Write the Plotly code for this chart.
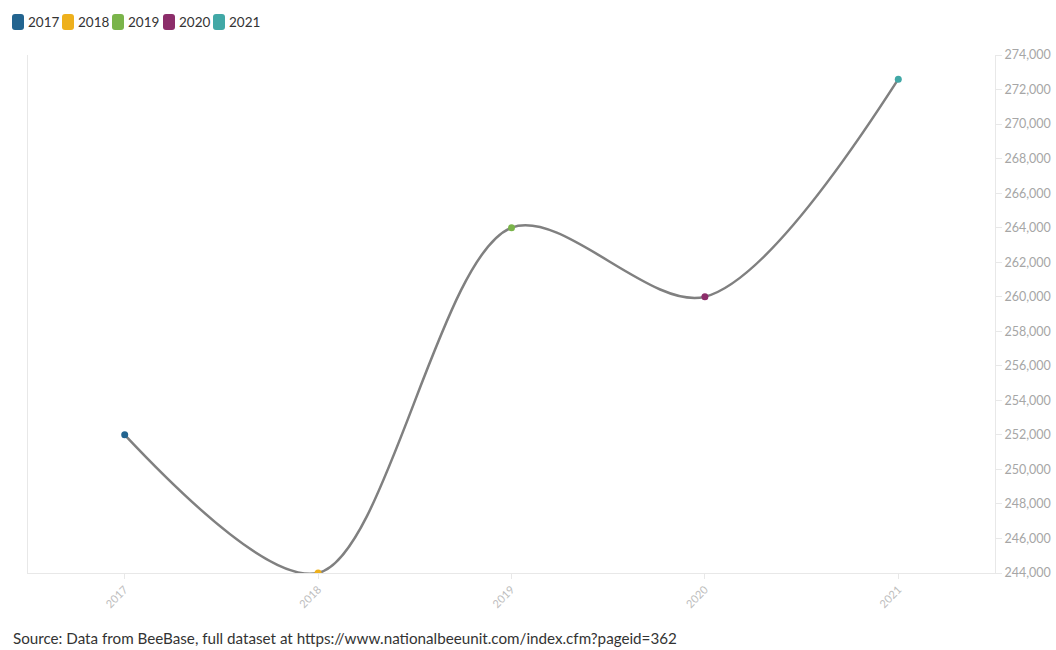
import plotly.graph_objects as go

years = [2017, 2018, 2019, 2020, 2021]
colonies = [252000, 244000, 264000, 260000, 272600]
colours = ['#23648f', '#eeb01c', '#7ab44a', '#8c2d6a', '#41a8a6']
y_ticks = list(range(244000, 276000, 2000))
source = 'Source: Data from BeeBase, full dataset at https://www.nationalbeeunit.com/index.cfm?pageid=362'

font = "Source Sans Pro, Lato, Noto Sans, sans-serif"

# plot area in page pixels
L, R, T, B = 28, 995, 55, 573
def px_x(p):
    return (p - L) / (R - L)
def px_y(p):
    return (B - p) / (B - T)

traces = [go.Scatter(x=years, y=colonies, mode='lines', line=dict(color='#808080', width=2.5, shape='spline', smoothing=0.9),
                     showlegend=False, hoverinfo='skip')]

for yr, val, col in zip(years, colonies, colours):
    traces.append(go.Scatter(x=[yr], y=[val], mode='markers', marker=dict(color=col, size=7),
                             showlegend=False, name=str(yr)))

# hand made legend: rounded swatch + label
legend_left = [12, 62, 112, 163, 213]
shapes = []
annotations = []
rr = 'M -6,5 Q -6,8 -3,8 L 3,8 Q 6,8 6,5 L 6,-5 Q 6,-8 3,-8 L -3,-8 Q -6,-8 -6,-5 Z'
for yr, col, lx in zip(years, colours, legend_left):
    shapes.append(dict(type='path', xref='paper', yref='paper', xsizemode='pixel', ysizemode='pixel',
                       xanchor=px_x(lx + 6), yanchor=px_y(22), path=rr,
                       fillcolor=col, line=dict(width=0)))
    annotations.append(dict(text=str(yr), xref='paper', yref='paper', x=px_x(lx + 14), y=px_y(22),
                            xanchor='left', yanchor='middle', showarrow=False,
                            font=dict(size=13.5, color='#333333')))

annotations.append(dict(text=source, xref='paper', yref='paper', x=px_x(11), y=px_y(638),
                        xanchor='left', yanchor='middle', showarrow=False,
                        font=dict(size=15.2, color='#333333')))

layout = go.Layout(
    width=1056, height=650,
    margin=dict(l=L, r=1056 - R, t=T, b=650 - B, autoexpand=False),
    paper_bgcolor='white', plot_bgcolor='white',
    font=dict(family=font, color='#333333'),
    showlegend=False,
    xaxis=dict(range=[2016.5, 2021.5], tickvals=years, ticktext=[str(y) for y in years],
               tickangle=-45, tickfont=dict(size=11, color='#bdbdbd'),
               showgrid=False, zeroline=False, showline=True, linecolor='#e8e8e8', linewidth=1,
               ticks='outside', ticklen=5, tickcolor='#e8e8e8'),
    yaxis=dict(side='right', range=[244000, 274000], tickvals=y_ticks, tickformat=',d',
               tickfont=dict(size=12.5, color='#a6a6a6'),
               showgrid=False, zeroline=False, showline=True, mirror=True,
               linecolor='#e8e8e8', linewidth=1,
               ticks='outside', ticklen=6, tickcolor='#e8e8e8'),
    shapes=shapes,
    annotations=annotations
)

fig = go.Figure(data=traces, layout=layout)
fig.write_html("out.html", config={'displayModeBar': False},
               post_script="document.body.style.margin='0';")
